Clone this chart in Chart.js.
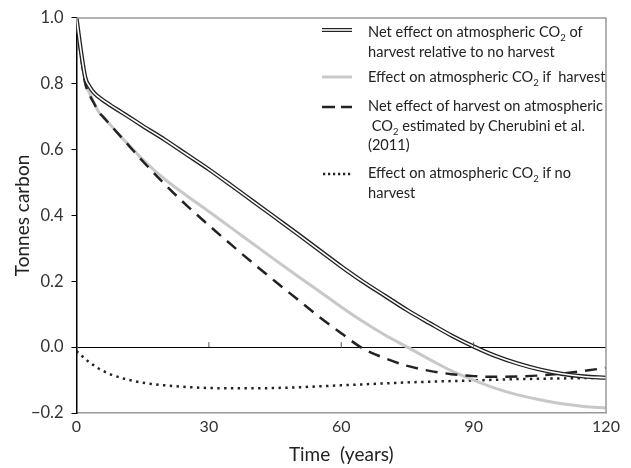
<!DOCTYPE html>
<html>
<head>
<meta charset="utf-8">
<script src="https://cdn.jsdelivr.net/npm/chart.js@4.4.1/dist/chart.umd.min.js"></script>
<style>
  body { margin: 0; background: #fff; }
  #wrap { position: relative; width: 631px; height: 468px; }
  .lg { position: absolute; left: 368px; font-family: Lato, sans-serif; font-size: 14.6px; line-height: 19.5px; color: #222; white-space: nowrap; }
  .lg sub { font-size: 9.5px; line-height: 0; }
  #samples { position: absolute; left: 0; top: 0; }
</style>
</head>
<body>
<div id="wrap">
  <canvas id="co2Chart" width="631" height="468"></canvas>
  <svg id="samples" width="631" height="468">
    <line x1="322" y1="30" x2="352" y2="30" stroke="#222" stroke-width="4"/>
    <line x1="322" y1="30" x2="352" y2="30" stroke="#fff" stroke-width="1.6"/>
    <line x1="322" y1="77" x2="352" y2="77" stroke="#c8c8c8" stroke-width="3"/>
    <line x1="322" y1="107" x2="352" y2="107" stroke="#222" stroke-width="2.5" stroke-dasharray="13 6"/>
    <line x1="323" y1="174" x2="352" y2="174" stroke="#222" stroke-width="2.4" stroke-dasharray="2.2 2.8"/>
  </svg>
  <div class="lg" style="top:22px">Net effect on atmospheric CO<sub>2</sub> of<br>harvest relative to no harvest</div>
  <div class="lg" style="top:67px">Effect on atmospheric CO<sub>2</sub> if&nbsp; harvest</div>
  <div class="lg" style="top:96px">Net effect of harvest on atmospheric<br>&nbsp;CO<sub>2</sub> estimated by Cherubini et al.<br>(2011)</div>
  <div class="lg" style="top:163px">Effect on atmospheric CO<sub>2</sub> if no<br>harvest</div>
</div>
<script>
// years on the x axis
const years = [0, 1, 2, 3, 4, 5, 6, 8, 10, 12, 15, 20, 25, 30, 35, 40, 45, 50, 55, 60, 65, 70, 75, 80, 85, 90, 95, 100, 105, 110, 115, 120];

// Net effect relative to no harvest (double line)
const netRelative = [1.0, 0.9, 0.818, 0.79, 0.772, 0.76, 0.75, 0.732, 0.715, 0.698, 0.672, 0.63, 0.585, 0.54, 0.492, 0.443, 0.394, 0.345, 0.295, 0.245, 0.198, 0.155, 0.112, 0.073, 0.035, 0.002, -0.027, -0.05, -0.068, -0.081, -0.089, -0.093];
// Effect if harvest (grey)
const ifHarvest = [1.0, 0.89, 0.805, 0.77, 0.742, 0.715, 0.7, 0.67, 0.64, 0.612, 0.57, 0.51, 0.46, 0.412, 0.363, 0.314, 0.265, 0.217, 0.17, 0.122, 0.077, 0.036, 0.0, -0.037, -0.072, -0.1, -0.125, -0.145, -0.16, -0.172, -0.18, -0.185];
// Cherubini et al. (2011) (dashed)
const cherubini = [1.0, 0.885, 0.8, 0.765, 0.74, 0.715, 0.7, 0.67, 0.64, 0.61, 0.565, 0.495, 0.43, 0.37, 0.312, 0.255, 0.2, 0.146, 0.092, 0.042, -0.005, -0.034, -0.057, -0.072, -0.082, -0.088, -0.09, -0.089, -0.086, -0.08, -0.072, -0.063];
// Effect if no harvest (dotted)
const noHarvest = [-0.012, -0.024, -0.036, -0.047, -0.056, -0.065, -0.072, -0.084, -0.093, -0.1, -0.108, -0.116, -0.121, -0.124, -0.125, -0.125, -0.124, -0.122, -0.119, -0.116, -0.113, -0.11, -0.107, -0.105, -0.103, -0.101, -0.099, -0.097, -0.096, -0.095, -0.094, -0.093];

const yTicks = [-0.2, 0, 0.2, 0.4, 0.6, 0.8, 1.0];
const xTicks = [0, 30, 60, 90, 120];

const pts = (arr) => years.map((x, i) => ({ x: x, y: arr[i] }));

// grey frame on top/right plus small ticks on the zero line
const framePlugin = {
  id: "frame",
  afterDatasetsDraw(chart) {
    const { ctx, chartArea: a, scales } = chart;
    ctx.save();
    ctx.strokeStyle = "#999";
    ctx.lineWidth = 1.5;
    ctx.beginPath();
    ctx.moveTo(a.left, a.top);
    ctx.lineTo(a.right, a.top);
    ctx.lineTo(a.right, a.bottom);
    ctx.stroke();
    const y0 = scales.y.getPixelForValue(0);
    ctx.strokeStyle = "#555";
    ctx.lineWidth = 1;
    ctx.beginPath();
    [30, 60, 90].forEach((v) => {
      const x = scales.x.getPixelForValue(v);
      ctx.moveTo(x, y0);
      ctx.lineTo(x, y0 - 5);
    });
    ctx.stroke();
    ctx.restore();
  },
};

new Chart(document.getElementById("co2Chart"), {
  type: "line",
  data: {
    datasets: [
      { data: pts(netRelative), borderColor: "#fff", borderWidth: 1.6, order: 0 },
      { data: pts(netRelative), borderColor: "#222", borderWidth: 4.2, order: 1 },
      { data: pts(cherubini), borderColor: "#222", borderWidth: 2.5, borderDash: [12, 8], order: 2 },
      { data: pts(ifHarvest), borderColor: "#c8c8c8", borderWidth: 3, order: 3 },
      { data: pts(noHarvest), borderColor: "#222", borderWidth: 2.5, borderDash: [2.4, 4.4], order: 4 },
    ],
  },
  options: {
    responsive: false,
    animation: false,
    layout: { padding: { left: 0, right: 25, top: 13, bottom: 0 } },
    elements: {
      point: { radius: 0 },
      line: { cubicInterpolationMode: "monotone", fill: false },
    },
    plugins: { legend: { display: false }, tooltip: { enabled: false } },
    scales: {
      x: {
        type: "linear",
        min: 0,
        max: 120,
        afterBuildTicks: (s) => { s.ticks = xTicks.map((v) => ({ value: v })); },
        afterFit: (s) => { s.height = 55; },
        ticks: { color: "#333", font: { family: "Lato", size: 16 }, padding: 4 },
        grid: { display: false, drawTicks: false },
        border: { color: "#999", width: 1.5 },
        title: { display: true, text: "Time  (years)", color: "#222", font: { family: "Lato", size: 19 }, padding: { bottom: 2 } },
      },
      y: {
        min: -0.2,
        max: 1.0,
        afterBuildTicks: (s) => { s.ticks = yTicks.map((v) => ({ value: v })); },
        afterFit: (s) => { s.width = 76.5; },
        ticks: {
          color: "#333",
          font: { family: "Lato", size: 16.5 },
          padding: 8,
          callback: (v) => v.toFixed(1).replace("-", "\u2212"),
        },
        grid: {
          color: (c) => (c.tick && Math.abs(c.tick.value) < 1e-9 ? "#000" : "rgba(0,0,0,0)"),
          tickColor: "#000",
          tickLength: 5,
          lineWidth: 1,
        },
        border: { color: "#000", width: 1.5 },
        title: { display: true, text: "Tonnes carbon", color: "#222", font: { family: "Lato", size: 19 }, padding: { top: 11 } },
      },
    },
  },
  plugins: [framePlugin],
});
</script>
</body>
</html>
